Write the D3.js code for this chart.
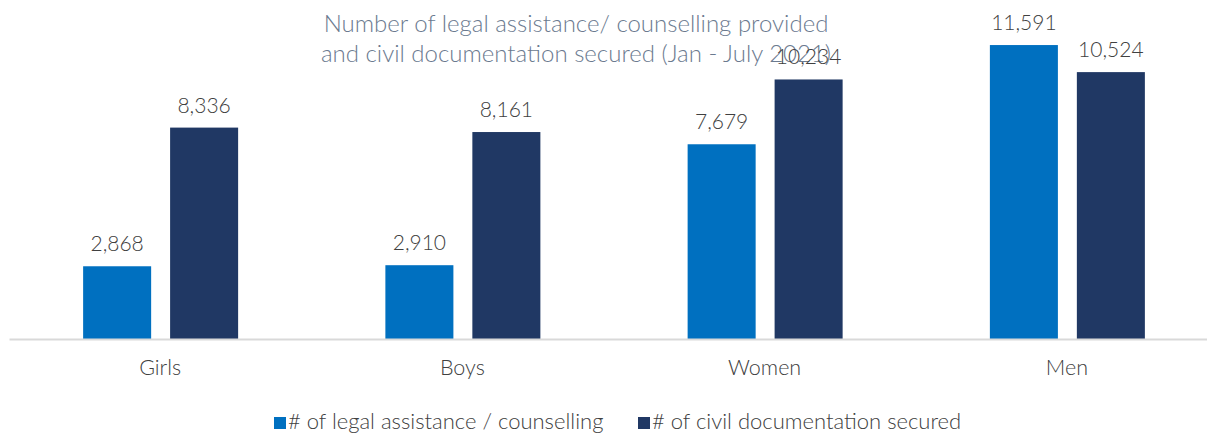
<!DOCTYPE html>
<html>
<head>
<meta charset="utf-8">
<script src="https://cdn.jsdelivr.net/npm/d3@7"></script>
<style>
  body { margin: 0; background: #fff; }
  text { font-family: Lato, "Open Sans", sans-serif; }
</style>
</head>
<body>
<script>
let w = 1207;
let h = 434;

// data
let categories = ["Girls", "Boys", "Women", "Men"];
let seriesNames = ["# of legal assistance / counselling", "# of civil documentation secured"];
let legalAssistance = [2868, 2910, 7679, 11591];
let civilDocs = [8336, 8161, 10234, 10524];
let titleLines = ["Number of legal assistance/ counselling provided",
                  "and civil documentation secured (Jan - July 2021)"];

let colors = ["#0070C0", "#203864"];

let svg = d3.select("body").append("svg")
    .attr("width", w)
    .attr("height", h);

let baseY = 339;

let xScale = d3.scaleBand()
    .domain(categories)
    .range([9, 1218]);

let xInner = d3.scaleBand()
    .domain([0, 1])
    .range([-77, 78])
    .paddingInner(0.218);

let yScale = d3.scaleLinear()
    .domain([0, 12000])
    .range([baseY, baseY - 12000 * 0.02536]);

let rows = categories.map(function(c, i) {
    return { cat: c, vals: [legalAssistance[i], civilDocs[i]] };
});

// title
svg.append("g").selectAll("text")
    .data(titleLines)
    .enter()
    .append("text")
    .attr("x", 576)
    .attr("y", function(d, i) { return 32 + i * 30; })
    .attr("text-anchor", "middle")
    .attr("font-size", 24)
    .attr("font-weight", 300)
    .attr("fill", "#6B7A8F")
    .text(function(d) { return d; });

// bars
let groups = svg.selectAll("g.cat")
    .data(rows)
    .enter()
    .append("g")
    .attr("class", "cat")
    .attr("transform", function(d) {
        return "translate(" + (xScale(d.cat) + xScale.bandwidth() / 2) + ",0)";
    });

groups.selectAll("rect")
    .data(function(d) { return d.vals; })
    .enter()
    .append("rect")
    .attr("x", function(d, i) { return xInner(i); })
    .attr("width", xInner.bandwidth())
    .attr("y", function(d) { return yScale(d); })
    .attr("height", function(d) { return baseY - yScale(d); })
    .attr("fill", function(d, i) { return colors[i]; });

groups.selectAll("text.val")
    .data(function(d) { return d.vals; })
    .enter()
    .append("text")
    .attr("class", "val")
    .attr("x", function(d, i) { return xInner(i) + xInner.bandwidth() / 2; })
    .attr("y", function(d) { return yScale(d) - 15; })
    .attr("text-anchor", "middle")
    .attr("font-size", 21)
    .attr("font-weight", 300)
    .attr("fill", "#404040")
    .text(function(d) { return d3.format(",")(d); });

// axis
let xAxis = d3.axisBottom(xScale).tickSize(0).tickPadding(21);
let axisG = svg.append("g")
    .attr("transform", "translate(0," + baseY + ")")
    .call(xAxis);
axisG.select(".domain")
    .attr("stroke", "#D9D9D9")
    .attr("stroke-width", 2);
axisG.selectAll("text")
    .attr("font-family", "Lato, sans-serif")
    .attr("font-size", 21.5)
    .attr("font-weight", 300)
    .attr("fill", "#404040");

// legend
let legendX = [274, 638];
let legend = svg.selectAll("g.legend")
    .data(seriesNames)
    .enter()
    .append("g")
    .attr("class", "legend")
    .attr("transform", function(d, i) { return "translate(" + legendX[i] + ",417)"; });

legend.append("rect")
    .attr("width", 12)
    .attr("height", 12)
    .attr("fill", function(d, i) { return colors[i]; });

legend.append("text")
    .attr("x", 14)
    .attr("y", 12)
    .attr("font-size", 22)
    .attr("font-weight", 300)
    .attr("fill", "#404040")
    .text(function(d) { return d; });
</script>
</body>
</html>
